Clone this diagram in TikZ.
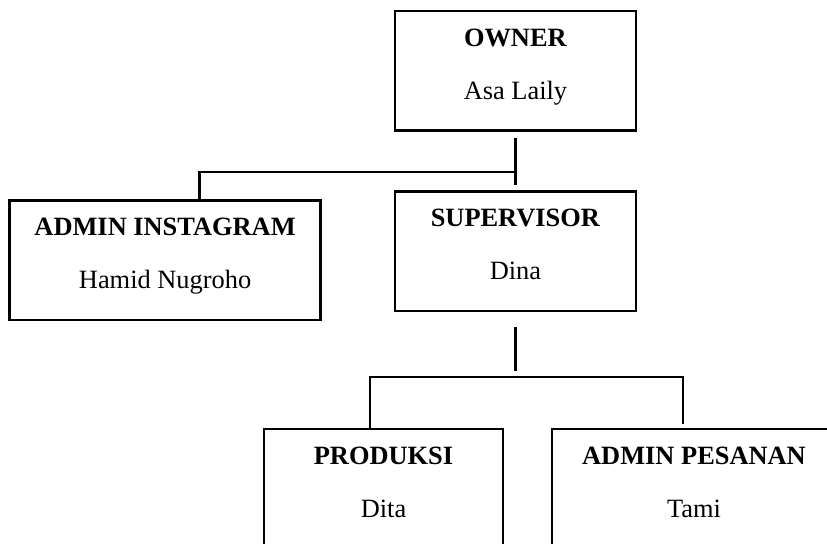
\documentclass[tikz,border=0pt]{standalone}
\usepackage{fontspec}
\setmainfont{Liberation Serif}
\usetikzlibrary{positioning}

\begin{document}
\begin{tikzpicture}[x=0.5pt,y=-0.5pt,
	unit node/.style={draw,line width=1.2pt,anchor=north,inner sep=0pt,align=center,
		text height=44pt,text depth=15.75pt,font=\fontsize{13.2pt}{26.5pt}\selectfont},
	link/.style={line width=1.2pt}]

	\useasboundingbox (0,0) rectangle (827,544);

	\node[unit node, minimum width=120.5pt] (owner) at (515.5,10) {\textbf{OWNER}\\Asa Laily};
	\node[unit node, minimum width=120.5pt] (supervisor) [below=29.25pt of owner] {\textbf{SUPERVISOR}\\Dina};
	\node[unit node, minimum width=155.5pt] (instagram) [left=36pt of supervisor.north west, anchor=north east, yshift=-4.5pt] {\textbf{ADMIN INSTAGRAM}\\Hamid Nugroho};
	\node[unit node, minimum width=119.5pt] (produksi) at (383.5,428) {\textbf{PRODUKSI}\\Dita};
	\node[unit node, minimum width=142pt] (pesanan) at (694,428) {\textbf{ADMIN PESANAN}\\Tami};

	\coordinate (top fork) at (515.5,172);
	\coordinate (low fork) at (515.5,377);

	% owner to supervisor and admin instagram
	\draw[link, shorten <=3pt, shorten >=2.5pt] (owner.south) -- (supervisor.north);
	\draw[link] (top fork) -| ([xshift=95.5pt]instagram.north west);

	% supervisor to produksi and admin pesanan
	\draw[link, shorten <=7.5pt, shorten >=3pt] (supervisor.south) -- (low fork);
	\draw[link] ([xshift=53.5pt]produksi.north west) |- (low fork)
		-| ([xshift=66pt,yshift=2pt]pesanan.north west);

\end{tikzpicture}
\end{document}
